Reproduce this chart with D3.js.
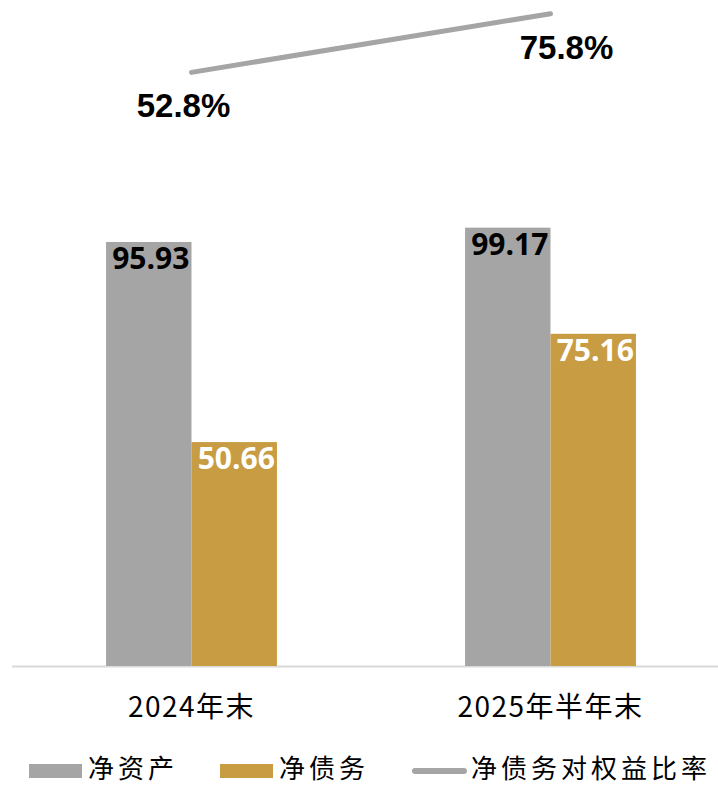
<!DOCTYPE html>
<html>
<head>
<meta charset="utf-8">
<script src="https://cdn.jsdelivr.net/npm/d3@7/dist/d3.min.js"></script>
<style>
  html, body { margin: 0; padding: 0; background: #fff; overflow: hidden; }
  svg { display: block; }
</style>
</head>
<body>
<svg id="chart" width="718" height="786"></svg>
<script>
// Net assets, net debt (bars) and net-debt-to-equity ratio (line)
const categories = ["2024年末", "2025年半年末"];
const netAssets = [95.93, 99.17];
const netDebt = [50.66, 75.16];
const debtRatio = [52.8, 75.8];
const legendLabels = ["净资产", "净债务", "净债务对权益比率"];

const colors = { assets: "#a5a5a5", debt: "#c89c42", ratio: "#a5a5a5" };
const cjkFont = "'Noto Sans CJK SC', 'Noto Sans', sans-serif";

const svg = d3.select("#chart");

const baseY = 666, topY = 3;
const x0 = d3.scaleBand().domain(categories).range([12, 730]).padding(0);
const groupW = x0.step() * 0.476;
const x1 = d3.scaleBand().domain(["assets", "debt"]).range([0, groupW]).padding(0);
const y = d3.scaleLinear().domain([0, 150]).range([baseY, topY]);
const y2 = d3.scaleLinear().domain([-180, 80]).range([baseY, topY]);
const cx = c => x0(c) + x0.bandwidth() / 2;

// baseline axis
svg.append("line")
  .attr("x1", 12).attr("x2", 718)
  .attr("y1", baseY + 0.5).attr("y2", baseY + 0.5)
  .attr("stroke", "#d9d9d9").attr("stroke-width", 2);

const series = [
  { key: "assets", values: netAssets, fill: colors.assets, text: "#000" },
  { key: "debt", values: netDebt, fill: colors.debt, text: "#fff" }
];

series.forEach(s => {
  const g = svg.append("g");
  g.selectAll("rect").data(categories).join("rect")
    .attr("x", c => cx(c) - groupW / 2 + x1(s.key))
    .attr("y", (c, i) => y(s.values[i]))
    .attr("width", x1.bandwidth())
    .attr("height", (c, i) => baseY - y(s.values[i]))
    .attr("fill", s.fill);
  g.selectAll("text").data(categories).join("text")
    .attr("x", c => cx(c) - groupW / 2 + x1(s.key) + x1.bandwidth() / 2 + 2)
    .attr("y", (c, i) => y(s.values[i]) + 27)
    .attr("text-anchor", "middle")
    .attr("font-family", "'Open Sans', 'Noto Sans', sans-serif")
    .attr("font-weight", "bold")
    .attr("font-size", 30)
    .attr("fill", s.text)
    .text((c, i) => s.values[i].toFixed(2));
});

// ratio line
const line = d3.line().x(d => cx(d.c)).y(d => y2(d.v));
const ratioPts = categories.map((c, i) => ({ c, v: debtRatio[i] }));
svg.append("path")
  .datum(ratioPts)
  .attr("d", line)
  .attr("fill", "none")
  .attr("stroke", colors.ratio)
  .attr("stroke-width", 5)
  .attr("stroke-linecap", "round");

const ratioDx = [-8, 16];
svg.selectAll(".ratio-label").data(ratioPts).join("text")
  .attr("class", "ratio-label")
  .attr("x", (d, i) => cx(d.c) + ratioDx[i])
  .attr("y", d => y2(d.v) + 45)
  .attr("text-anchor", "middle")
  .attr("font-family", "'Liberation Sans Narrow', 'Liberation Sans', sans-serif")
  .attr("font-weight", "bold")
  .attr("font-size", 33)
  .attr("fill", "#000")
  .text(d => d.v.toFixed(1) + "%");

// category labels
svg.selectAll(".cat").data(categories).join("text")
  .attr("class", "cat")
  .attr("x", c => cx(c))
  .attr("y", 717)
  .attr("text-anchor", "middle")
  .attr("font-family", cjkFont)
  .attr("font-size", 28)
  .attr("letter-spacing", 1.5)
  .attr("fill", "#000")
  .text(c => c);

// legend
const legY = 771;
const leg = svg.append("g");
const legItems = [
  { x: 29, type: "rect", color: colors.assets, label: legendLabels[0] },
  { x: 220, type: "rect", color: colors.debt, label: legendLabels[1] },
  { x: 412, type: "line", color: colors.ratio, label: legendLabels[2] }
];
legItems.forEach(it => {
  if (it.type === "rect") {
    leg.append("rect").attr("x", it.x).attr("y", legY - 7)
      .attr("width", 53).attr("height", 14).attr("fill", it.color);
  } else {
    leg.append("line").attr("x1", it.x + 3).attr("x2", it.x + 52)
      .attr("y1", legY).attr("y2", legY)
      .attr("stroke", it.color).attr("stroke-width", 6).attr("stroke-linecap", "round");
  }
  leg.append("text")
    .attr("x", it.x + 59)
    .attr("y", 778)
    .attr("font-family", cjkFont)
    .attr("font-size", 26)
    .attr("letter-spacing", 4)
    .attr("fill", "#000")
    .text(it.label);
});
</script>
</body>
</html>
